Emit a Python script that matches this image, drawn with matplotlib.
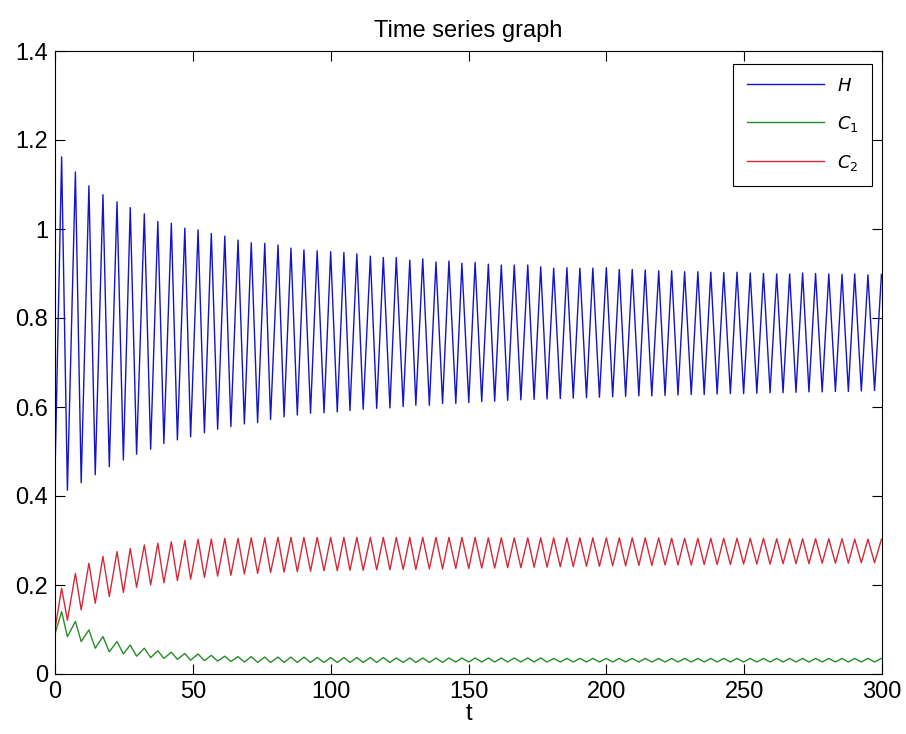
import matplotlib
matplotlib.use("Agg")
import matplotlib.pyplot as plt
from matplotlib.ticker import FuncFormatter

# times of the oscillation maxima and minima
peak_t = [2.4, 7.4, 12.3, 17.4, 22.5, 27.3, 32.4, 37.3, 42.2, 47.1, 51.9, 56.7, 61.6, 66.4, 71.2, 76.1,
          80.9, 85.6, 90.3, 95.1, 100.0, 104.8, 109.5, 114.4, 119.1, 123.8, 128.7, 133.4, 138.2, 142.9,
          147.6, 152.4, 157.2, 161.9, 166.6, 171.5, 176.2, 180.9, 185.7, 190.4, 195.1, 200.0, 204.7,
          209.4, 214.1, 219.0, 223.7, 228.4, 233.2, 237.9, 242.6, 247.4, 252.2, 257.0, 261.8, 266.5,
          271.2, 275.9, 280.7, 285.5, 290.1, 294.9, 299.8]
trough_t = [4.5, 9.5, 14.6, 19.7, 24.8, 29.6, 34.7, 39.5, 44.4, 49.2, 54.2, 59.0, 63.8, 68.7, 73.5,
            78.2, 83.1, 87.9, 92.7, 97.6, 102.4, 107.0, 111.8, 116.7, 121.5, 126.3, 130.9, 135.8, 140.6,
            145.4, 150.1, 154.8, 159.5, 164.2, 169.0, 173.8, 178.5, 183.3, 188.0, 192.8, 197.5, 202.3,
            207.0, 211.8, 216.5, 221.3, 226.0, 230.8, 235.5, 240.2, 245.0, 249.8, 254.6, 259.4, 264.1,
            268.8, 273.5, 278.3, 283.1, 287.8, 292.5, 297.3]

# H
h_start = 0.45
h_peak = [1.162, 1.128, 1.097, 1.077, 1.061, 1.048, 1.034, 1.017, 1.013, 1.002, 0.998, 0.990, 0.984,
          0.975, 0.969, 0.968, 0.964, 0.957, 0.953, 0.951, 0.949, 0.947, 0.944, 0.939, 0.936, 0.936,
          0.930, 0.933, 0.926, 0.928, 0.923, 0.925, 0.921, 0.919, 0.919, 0.919, 0.915, 0.912, 0.913,
          0.912, 0.912, 0.913, 0.909, 0.909, 0.908, 0.906, 0.906, 0.904, 0.904, 0.903, 0.902, 0.903,
          0.901, 0.900, 0.899, 0.899, 0.901, 0.900, 0.899, 0.898, 0.899, 0.897, 0.898]
h_trough = [0.413, 0.430, 0.448, 0.466, 0.481, 0.494, 0.505, 0.518, 0.526, 0.533, 0.542, 0.550, 0.556,
            0.562, 0.565, 0.572, 0.578, 0.582, 0.586, 0.587, 0.589, 0.592, 0.595, 0.597, 0.598, 0.601,
            0.604, 0.604, 0.608, 0.608, 0.610, 0.612, 0.613, 0.615, 0.616, 0.617, 0.618, 0.619, 0.620,
            0.621, 0.622, 0.623, 0.624, 0.625, 0.625, 0.626, 0.627, 0.628, 0.628, 0.629, 0.630, 0.630,
            0.631, 0.632, 0.632, 0.633, 0.634, 0.634, 0.635, 0.635, 0.636, 0.637]

# C1
c1_start = 0.09
c1_peak = [0.140, 0.118, 0.099, 0.084, 0.073, 0.065, 0.058, 0.052, 0.049, 0.046, 0.045, 0.042, 0.040,
           0.039, 0.039, 0.038, 0.038, 0.038, 0.038, 0.037, 0.037, 0.037, 0.037, 0.037, 0.037, 0.036,
           0.036, 0.036, 0.036, 0.036, 0.036, 0.036, 0.036, 0.036, 0.036, 0.036, 0.036, 0.035, 0.035,
           0.035, 0.035, 0.035, 0.035, 0.035, 0.035, 0.035, 0.035, 0.035, 0.035, 0.035, 0.035, 0.035,
           0.035, 0.035, 0.035, 0.035, 0.035, 0.035, 0.035, 0.035, 0.035, 0.035, 0.035]
c1_trough = [0.084, 0.073, 0.058, 0.050, 0.045, 0.040, 0.037, 0.035, 0.033, 0.031, 0.030, 0.029, 0.028,
             0.027, 0.026, 0.026, 0.026, 0.026, 0.026, 0.026, 0.026, 0.026, 0.026, 0.026, 0.026, 0.026,
             0.026, 0.026, 0.026, 0.027, 0.027, 0.027, 0.027, 0.027, 0.027, 0.027, 0.027, 0.027, 0.027,
             0.027, 0.027, 0.027, 0.027, 0.027, 0.027, 0.027, 0.027, 0.027, 0.027, 0.027, 0.027, 0.027,
             0.027, 0.027, 0.027, 0.027, 0.027, 0.027, 0.027, 0.027, 0.027, 0.027]

# C2
c2_start = 0.10
c2_peak = [0.193, 0.226, 0.249, 0.264, 0.275, 0.282, 0.290, 0.294, 0.297, 0.300, 0.303, 0.303, 0.305,
           0.305, 0.306, 0.306, 0.307, 0.307, 0.307, 0.307, 0.307, 0.307, 0.307, 0.307, 0.307, 0.307,
           0.307, 0.307, 0.307, 0.307, 0.307, 0.307, 0.306, 0.306, 0.306, 0.306, 0.306, 0.306, 0.306,
           0.306, 0.306, 0.306, 0.306, 0.306, 0.306, 0.306, 0.305, 0.305, 0.305, 0.305, 0.305, 0.305,
           0.305, 0.305, 0.304, 0.304, 0.304, 0.304, 0.304, 0.304, 0.303, 0.303, 0.303]
c2_trough = [0.121, 0.144, 0.159, 0.174, 0.183, 0.195, 0.200, 0.205, 0.210, 0.213, 0.217, 0.220, 0.222,
             0.225, 0.226, 0.228, 0.229, 0.230, 0.231, 0.232, 0.232, 0.233, 0.233, 0.234, 0.234, 0.235,
             0.235, 0.236, 0.236, 0.237, 0.237, 0.238, 0.238, 0.239, 0.239, 0.240, 0.240, 0.241, 0.241,
             0.242, 0.242, 0.243, 0.243, 0.244, 0.244, 0.245, 0.245, 0.245, 0.246, 0.246, 0.246, 0.247,
             0.247, 0.247, 0.248, 0.248, 0.248, 0.249, 0.249, 0.249, 0.250, 0.250]


def series(start, peaks, troughs):
    ts = [0.0]
    vs = [start]
    for i, (tp, vp) in enumerate(zip(peak_t, peaks)):
        ts.append(tp)
        vs.append(vp)
        if i < len(trough_t):
            ts.append(trough_t[i])
            vs.append(troughs[i])
    return ts, vs


plt.rcParams["font.family"] = ["Liberation Sans", "DejaVu Sans"]

fig = plt.figure(figsize=(9.06, 7.34), dpi=100)
ax = fig.add_axes([55 / 906, 60 / 734, 827 / 906, 623 / 734])

for (start, pk, tr), color, label in [
    ((h_start, h_peak, h_trough), "#1414c8", "$H$"),
    ((c1_start, c1_peak, c1_trough), "#2a8a2a", "$C_1$"),
    ((c2_start, c2_peak, c2_trough), "#d42a38", "$C_2$"),
]:
    ts, vs = series(start, pk, tr)
    ax.plot(ts, vs, color=color, lw=1.0, label=label, solid_joinstyle="round")

ax.set_xlim(0, 300)
ax.set_ylim(0, 1.4)
ax.set_xticks(range(0, 301, 50))
ax.set_yticks([0, 0.2, 0.4, 0.6, 0.8, 1.0, 1.2, 1.4])
ax.yaxis.set_major_formatter(FuncFormatter(lambda v, p: "{:g}".format(round(v, 1))))
ax.tick_params(direction="in", top=True, right=True, length=7, width=0.8, labelsize=17, pad=5)
for s in ax.spines.values():
    s.set_linewidth(0.8)

ax.set_title("Time series graph", fontsize=17, pad=10)
ax.set_xlabel("t", fontsize=17, labelpad=0)

leg = ax.legend(loc="upper right", bbox_to_anchor=(0.988, 0.979), borderaxespad=0, fontsize=13,
                handlelength=4.3, labelspacing=1.05, borderpad=0.75, fancybox=False, framealpha=1,
                edgecolor="black", handletextpad=0.7)
leg.get_frame().set_linewidth(0.8)

plt.savefig("out.png", dpi=100)
plt.close()
